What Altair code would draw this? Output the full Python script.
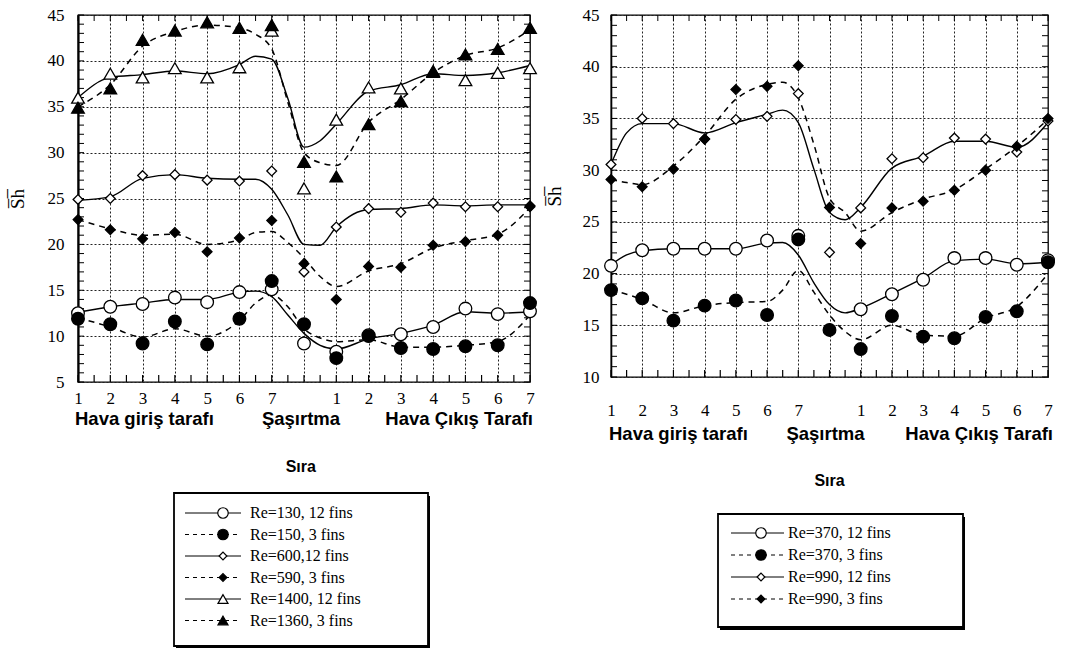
import json
import altair as alt
import pandas as pd

# ---------------- shared labels ----------------
pos_labels = ["1", "2", "3", "4", "5", "6", "7", "", "1", "2", "3", "4", "5", "6", "7"]
idx = list(range(15))
group_labels = ["Hava giriş tarafı", "Şaşırtma", "Hava Çıkış Tarafı"]
group_x = [0, 7, 14]
group_align = ["left", "center", "right"]
axis_title = "S\u0305h\u0305"
x_title = "Sıra"

SERIF = "Liberation Serif"
SANS = "Liberation Sans"

# ---------------- left panel data ----------------
L_names = ["Re=130, 12 fins", "Re=150, 3 fins", "Re=600,12 fins",
           "Re=590, 3 fins", "Re=1400, 12 fins", "Re=1360, 3 fins"]
L_shapes = ["circle", "circle", "diamond", "diamond", "triangle-up", "triangle-up"]
L_filled = [False, True, False, True, False, True]
L_dash = ["solid", "dashed", "solid", "dashed", "solid", "dashed"]

L_130 = [12.5, 13.2, 13.5, 14.2, 13.7, 14.8, 15.1, 9.2, 8.3, 10.1, 10.2, 11.0, 13.0, 12.4, 12.7]
L_150 = [11.9, 11.3, 9.2, 11.6, 9.1, 11.9, 16.0, 11.3, 7.6, 10.0, 8.7, 8.6, 8.9, 9.0, 13.6]
L_600 = [24.9, 25.0, 27.5, 27.6, 27.0, 26.9, 28.0, 17.0, 21.9, 23.9, 23.5, 24.5, 24.1, 24.1, 24.2]
L_590 = [22.7, 21.6, 20.6, 21.3, 19.2, 20.7, 22.6, 17.9, 14.0, 17.6, 17.5, 19.9, 20.3, 21.0, 24.1]
L_1400 = [36.0, 38.6, 38.2, 39.2, 38.2, 39.3, 43.3, 26.1, 33.6, 37.1, 37.0, 38.8, 37.9, 38.7, 39.2]
L_1360 = [34.9, 37.0, 42.3, 43.3, 44.2, 43.6, 43.9, 29.0, 27.4, 33.1, 35.6, 38.9, 40.7, 41.3, 43.6]
L_points = [L_130, L_150, L_600, L_590, L_1400, L_1360]

# fitted curves
L_knots = [0, 1, 2, 3, 4, 5, 5.5, 6, 6.5, 7, 7.5, 8, 9, 10, 11, 12, 13, 14]
Lc_130 = [12.6, 13.2, 13.6, 14.0, 14.0, 14.8, 14.9, 14.3, 12.3, 10.3, 9.0, 8.6, 9.7, 10.3, 11.2, 12.65, 12.5, 12.65]
Lc_150 = [12.0, 11.0, 9.9, 10.8, 10.0, 11.7, 13.6, 14.5, 13.2, 10.8, 9.8, 9.4, 9.6, 8.8, 8.8, 9.0, 9.4, 12.3]
Lc_600 = [24.8, 25.2, 27.2, 27.6, 27.2, 27.1, 27.1, 26.0, 23.2, 20.0, 19.9, 21.9, 23.8, 23.9, 24.3, 24.2, 24.3, 24.3]
Lc_590 = [22.7, 21.7, 21.0, 21.1, 20.0, 20.5, 21.3, 21.4, 20.2, 18.5, 16.5, 15.4, 17.1, 17.9, 19.6, 20.4, 21.1, 24.0]
Lc_1400 = [36.0, 38.2, 38.5, 38.9, 38.6, 39.6, 40.5, 40.2, 35.9, 30.6, 31.3, 33.1, 36.7, 37.4, 38.6, 38.4, 38.7, 39.5]
Lc_1360 = [35.0, 37.4, 41.6, 43.2, 43.9, 43.6, 42.9, 41.3, 35.5, 30.0, 28.9, 28.6, 33.3, 35.8, 38.7, 40.6, 41.4, 43.4]
L_curves = [Lc_130, Lc_150, Lc_600, Lc_590, Lc_1400, Lc_1360]

# ---------------- right panel data ----------------
R_names = ["Re=370, 12 fins", "Re=370, 3 fins", "Re=990, 12 fins", "Re=990, 3 fins"]
R_shapes = ["circle", "circle", "diamond", "diamond"]
R_filled = [False, True, False, True]
R_dash = ["solid", "dashed", "solid", "dashed"]

R_370_12 = [20.75, 22.25, 22.4, 22.4, 22.4, 23.2, 23.65, None, 16.55, 18.0, 19.4, 21.5, 21.5, 20.85, 21.3]
R_370_3 = [18.4, 17.6, 15.45, 16.9, 17.4, 16.0, 23.3, 14.55, 12.7, 15.9, 13.9, 13.75, 15.8, 16.35, 21.1]
R_990_12 = [30.55, 35.0, 34.5, 33.0, 34.9, 35.2, 37.4, 22.05, 26.35, 31.1, 31.2, 33.1, 33.0, 31.75, 34.75]
R_990_3 = [29.1, 28.4, 30.1, 33.0, 37.8, 38.1, 40.1, 26.4, 22.9, 26.35, 27.0, 28.05, 30.0, 32.3, 35.0]
R_points = [R_370_12, R_370_3, R_990_12, R_990_3]

R_knots = [0, 0.5, 1, 2, 3, 4, 5, 5.5, 6, 6.5, 7, 7.5, 8, 9, 10, 11, 12, 13, 14]
Rc_370_12 = [20.85, 21.8, 22.2, 22.4, 22.4, 22.4, 22.95, 23.0, 21.8, 19.1, 17.0, 16.2, 16.65, 18.05, 19.55, 21.25, 21.4, 20.95, 21.1]
Rc_370_3 = [18.4, 18.0, 17.5, 16.2, 16.9, 17.2, 17.3, 18.4, 20.3, 18.2, 16.0, 14.4, 13.6, 15.0, 14.05, 13.95, 15.7, 16.8, 20.0]
Rc_990_12 = [30.55, 33.6, 34.5, 34.5, 33.6, 34.6, 35.4, 35.8, 34.6, 30.1, 25.9, 25.2, 26.4, 30.2, 31.35, 32.8, 32.8, 32.2, 34.6]
Rc_990_3 = [29.1, 28.8, 28.6, 30.4, 33.3, 36.85, 38.3, 38.5, 37.0, 32.5, 27.3, 25.9, 24.1, 25.9, 27.2, 28.1, 30.1, 32.3, 34.9]
R_curves = [Rc_370_12, Rc_370_3, Rc_990_12, Rc_990_3]

# tick positions
L_yticks = [5, 10, 15, 20, 25, 30, 35, 40, 45]
R_yticks = [10, 15, 20, 25, 30, 35, 40, 45]
L_minor_y = list(range(5, 46))
R_minor_y = list(range(10, 46))
minor_x = [i / 2 for i in range(29)]

SIZE = {"circle": 160, "diamond": 95, "triangle-up": 160}
LEG_SIZE = {"circle": 110, "diamond": 60, "triangle-up": 100}


def panel(names, shapes, filled, dashes, points, knots, curves, ydom, yticks,
          minor_y, W, H, cfg):
    xs = alt.Scale(domain=[0, 14], nice=False, zero=False)
    ys = alt.Scale(domain=ydom, nice=False, zero=False)
    label_expr = json.dumps(pos_labels) + "[round(datum.value)]"
    xaxis = alt.Axis(values=idx, labelExpr=label_expr, grid=True,
                     gridDash=[2, 2], gridColor="#222", gridWidth=1,
                     tickSize=0, domain=False, labelFont=SERIF,
                     labelFontSize=17, labelColor="black",
                     labelPadding=cfg["xlabpad"], labelOverlap=False,
                     labelFlush=False, title=None)
    yaxis = alt.Axis(values=yticks, grid=True, gridDash=[2, 2],
                     gridColor="#222", gridWidth=1, tickSize=0,
                     domain=True, domainColor="black", domainWidth=cfg["domw"],
                     labelFont=SERIF, labelFontSize=17,
                     labelColor="black", labelPadding=cfg["ylabpad"],
                     title=axis_title,
                     titleFont=SERIF, titleFontSize=19,
                     titleFontWeight="normal", titleColor="black",
                     titlePadding=cfg["ytitlepad"])

    def X(f):
        return alt.X(f, scale=xs, axis=xaxis, title=None)

    def Y(f):
        return alt.Y(f, scale=ys, axis=yaxis, title=axis_title)

    pts = []
    for n, s, f, vals in zip(names, shapes, filled, points):
        for i, v in zip(idx, vals):
            if v is not None:
                pts.append({"series": n, "x": i, "y": v, "shape": s,
                            "fill": "black" if f else "white", "size": SIZE[s]})
    pts = pd.DataFrame(pts)

    crv = []
    for n, d, vals in zip(names, dashes, curves):
        for k, v in zip(knots, vals):
            crv.append({"series": n, "x": k, "y": v, "dash": d})
    crv = pd.DataFrame(crv)

    layers = []

    # inward minor ticks
    ty = pd.DataFrame({"v": minor_y})
    tx = pd.DataFrame({"v": minor_x})
    layers.append(alt.Chart(ty).mark_rule(color="black", strokeWidth=1).encode(
        y=Y("v:Q"), x=alt.value(0), x2=alt.value(6)))
    layers.append(alt.Chart(ty).mark_rule(color="black", strokeWidth=1).encode(
        y=Y("v:Q"), x=alt.value(W - 6), x2=alt.value(W)))
    layers.append(alt.Chart(tx).mark_rule(color="black", strokeWidth=1).encode(
        x=X("v:Q"), y=alt.value(0), y2=alt.value(6)))
    layers.append(alt.Chart(tx).mark_rule(color="black", strokeWidth=1.2).encode(
        x=X("v:Q"), y=alt.value(H - 7), y2=alt.value(H)))

    # curves
    layers.append(alt.Chart(crv).transform_filter("datum.dash == 'solid'").mark_line(
        color="black", strokeWidth=1.4, interpolate="monotone").encode(
        x=X("x:Q"), y=Y("y:Q"), detail="series:N"))
    layers.append(alt.Chart(crv).transform_filter("datum.dash == 'dashed'").mark_line(
        color="black", strokeWidth=1.5, strokeDash=[6, 5], interpolate="monotone").encode(
        x=X("x:Q"), y=Y("y:Q"), detail="series:N"))

    # measured points
    layers.append(alt.Chart(pts).mark_point(filled=True, stroke="black",
                                            strokeWidth=1.3, opacity=1).encode(
        x=X("x:Q"), y=Y("y:Q"),
        shape=alt.Shape("shape:N", scale=None), fill=alt.Fill("fill:N", scale=None),
        size=alt.Size("size:Q", scale=None)))

    # group labels under the axis
    for lab, gx, al, dx in zip(group_labels, group_x, group_align, cfg["gdx"]):
        layers.append(alt.Chart(pd.DataFrame({"x": [gx], "t": [lab]})).mark_text(
            font=SANS, fontWeight="bold", fontSize=18.5, align=al, baseline="middle",
            dx=dx, color="black").encode(
            x=X("x:Q"), y=alt.value(cfg["group_y"]), text="t:N"))

    # "Sıra"
    layers.append(alt.Chart(pd.DataFrame({"x": [cfg["sira_x"]], "t": [x_title]})).mark_text(
        font=SANS, fontWeight="bold", fontSize=16, align="center", baseline="middle",
        color="black").encode(
        x=X("x:Q"), y=alt.value(cfg["sira_y"]), text="t:N"))

    # legend box
    bx0, bx1, by0, by1 = cfg["box"]
    one = pd.DataFrame({"a": [0]})
    layers.append(alt.Chart(one).mark_rect(color="black").encode(
        x=alt.value(bx0 + 2), x2=alt.value(bx1 + 2), y=alt.value(by0 + 3),
        y2=alt.value(by1 + 3)))
    layers.append(alt.Chart(one).mark_rect(fill="white", stroke="black",
                                           strokeWidth=1.8).encode(
        x=alt.value(bx0), x2=alt.value(bx1), y=alt.value(by0), y2=alt.value(by1)))

    lx0, lx1, sx, tx0 = cfg["leg_x"]
    for k, (n, s, f, d) in enumerate(zip(names, shapes, filled, dashes)):
        yy = cfg["row0"] + k * cfg["step"]
        row = pd.DataFrame({"t": [n], "shape": [s],
                            "fill": ["black" if f else "white"]})
        rule = alt.Chart(row).mark_rule(color="black", strokeWidth=1,
                                        strokeDash=([4, 4] if d == "dashed" else [1, 0]))
        layers.append(rule.encode(x=alt.value(lx0), x2=alt.value(lx1), y=alt.value(yy)))
        layers.append(alt.Chart(row).mark_point(filled=True, stroke="black",
                                                strokeWidth=1.2, opacity=1,
                                                size=LEG_SIZE[s]).encode(
            x=alt.value(sx), y=alt.value(yy),
            shape=alt.Shape("shape:N", scale=None), fill=alt.Fill("fill:N", scale=None)))
        layers.append(alt.Chart(row).mark_text(font=SERIF, fontSize=16, align="left",
                                               baseline="middle", color="black").encode(
            x=alt.value(tx0), y=alt.value(yy), text="t:N"))

    return alt.layer(*layers).properties(width=W, height=H)


left_cfg = {"xlabpad": 8, "ylabpad": 14, "ytitlepad": 20, "gdx": [-3, -3, 3],
            "group_y": 404, "sira_x": 6.9, "sira_y": 452, "domw": 2.2,
            "box": [96, 350, 478, 631], "leg_x": [107, 163, 145, 172],
            "row0": 498, "step": 21.5}
right_cfg = {"xlabpad": 25, "ylabpad": 12, "ytitlepad": 18, "gdx": [-2, -4, 5],
             "group_y": 419, "sira_x": 7, "sira_y": 466, "domw": 1.6,
             "box": [107, 352, 499, 612], "leg_x": [120, 173, 150, 177],
             "row0": 518, "step": 22}

left = panel(L_names, L_shapes, L_filled, L_dash, L_points, L_knots, L_curves,
             [5, 45], L_yticks, L_minor_y, 452, 367, left_cfg)
right = panel(R_names, R_shapes, R_filled, R_dash, R_points, R_knots, R_curves,
              [10, 45], R_yticks, R_minor_y, 437, 362, right_cfg)

chart = alt.hconcat(left, right, spacing=4).properties(
    padding={"left": 7, "top": 5, "right": 5, "bottom": 5},
    background="white",
).configure_view(stroke="black", strokeWidth=1.3)

chart.save("out.html", embed_options={"renderer": "svg", "actions": False})
